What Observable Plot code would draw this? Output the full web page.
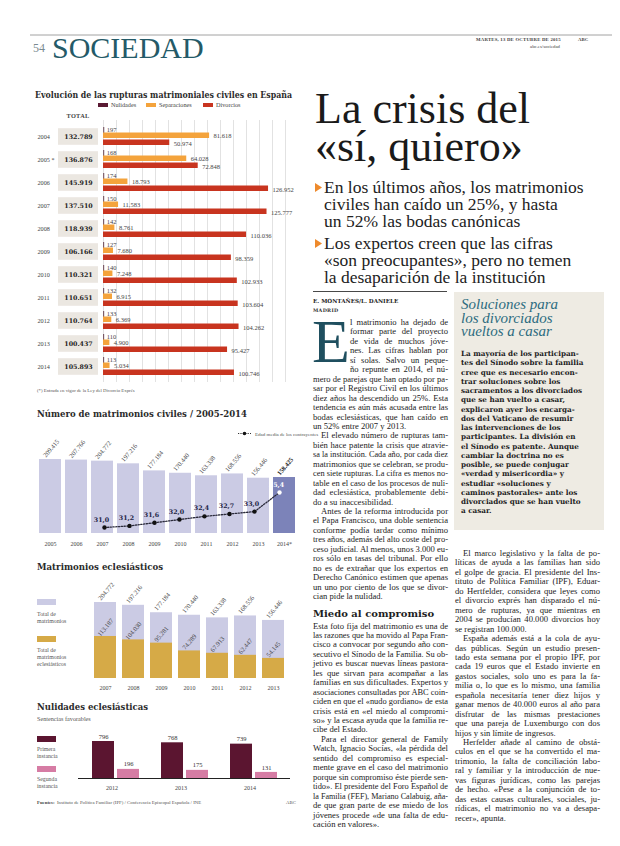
<!DOCTYPE html>
<html><head><meta charset="utf-8">
<script src="https://cdn.jsdelivr.net/npm/d3@7"></script>
<script src="https://cdn.jsdelivr.net/npm/@observablehq/plot@0.6"></script>
<style>
html,body{margin:0;padding:0;background:#fff;}
body{width:620px;height:846px;position:relative;overflow:hidden;}
#bg{position:absolute;left:0;top:0;}
.chart{position:absolute;}
</style></head><body>
<svg id="bg" width="620" height="846"></svg>
<script>
// ---------- DATA ----------
const rupYears = ["2004","2005 *","2006","2007","2008","2009","2010","2011","2012","2013","2014"];
const rupTotal = [132789,136876,145919,137510,118939,106166,110321,110651,110764,100437,105893];
const rupNulidades = [197,168,174,150,142,127,140,132,133,110,113];
const rupSeparaciones = [81618,64028,18793,11583,8761,7680,7248,6915,6369,4900,5034];
const rupDivorcios = [50974,72848,126952,125777,110036,98359,102933,103604,104262,95427,100746];

const civYears = ["2005","2006","2007","2008","2009","2010","2011","2012","2013","2014*"];
const civTotal = [209415,207766,204772,197216,177184,170440,163338,168556,156446,158425];
const ageYears = ["2007","2008","2009","2010","2011","2012","2013","2014*"];
const ageValues = [31.0,31.2,31.6,32.0,32.4,32.7,33.0,35.4];

const eclYears = ["2007","2008","2009","2010","2011","2012","2013"];
const eclTotal = [204772,197216,177184,170440,163338,168556,156446];
const eclEclesiasticos = [113187,104030,95281,74289,67913,62447,54145];

const nulYears = ["2012","2013","2014"];
const nulPrimera = [796,768,739];
const nulSegunda = [196,175,131];

// ---------- helpers ----------
const loc = d3.formatLocale({decimal: ",", thousands: ".", grouping: [3], currency: ["", "€"]});
const fmtN = loc.format(",d");
const fmtA = loc.format(".1f");
const SERIF = "Liberation Serif";
const BOLD = "DejaVu Serif";
const svg = d3.select("#bg");

function T(x, y, s, o = {}) {
  const t = svg.append("text").attr("x", x).attr("y", y).text(s)
    .attr("font-family", o.ff || SERIF).attr("font-size", o.fs || 8).attr("fill", o.fill || "#222");
  if (o.fw) t.attr("font-weight", o.fw);
  if (o.fst) t.attr("font-style", o.fst);
  if (o.anchor) t.attr("text-anchor", o.anchor);
  if (o.ls) t.attr("letter-spacing", o.ls);
  if (o.tl) t.attr("textLength", o.tl).attr("lengthAdjust", "spacingAndGlyphs");
  return t;
}
function justify(t, w) {
  const node = t.node();
  const len = node.getComputedTextLength();
  const spaces = (node.textContent.match(/ /g) || []).length;
  if (len > w || spaces === 0) t.attr("textLength", w).attr("lengthAdjust", "spacingAndGlyphs");
  else t.style("word-spacing", ((w - len) / spaces) + "px");
}
function block(lines, x, w, y, lh, o = {}) {
  lines.forEach((raw, i) => {
    let s = raw, ind = 0, end = !!o.ragged;
    if (s.startsWith(">")) { s = s.slice(1); ind = o.indent || 8; }
    if (s.endsWith("|")) { s = s.slice(0, -1); end = true; }
    if (o.first && i < o.first.n) ind += o.first.dx;
    const xi = x + ind, wi = w - ind;
    const t = T(xi, y + i * lh, s, o);
    if (!end) justify(t, wi);
    else if (t.node().getComputedTextLength() > wi) t.attr("textLength", wi).attr("lengthAdjust", "spacingAndGlyphs");
  });
  return y + lines.length * lh;
}
function place(el, left, top) {
  el.classList.add("chart");
  el.style.left = left + "px";
  el.style.top = top + "px";
  document.body.appendChild(el);
}
const baseStyle = {fontFamily: SERIF, fontSize: "6.5px", color: "#333", background: "transparent", overflow: "visible"};

// ---------- page furniture ----------
svg.append("line").attr("x1", 30).attr("x2", 612).attr("y1", 35).attr("y2", 35).attr("stroke", "#8a8a8a").attr("stroke-width", 0.8);
T(33, 52, "54", {fs: 12, fill: "#7a8a90"});
T(52, 58, "SOCIEDAD", {fs: 30, fill: "#245a68"});
T(476, 41, "MARTES, 13 DE OCTUBRE DE 2015", {fs: 4.8, fw: "bold", fill: "#444", ls: 0.2});
T(578, 41, "ABC", {fs: 4.8, fw: "bold", fill: "#444"});
T(530, 48, "abc.es/sociedad", {fs: 4.8, fill: "#444"});

// ---------- Chart 1 : rupturas ----------
T(35, 98, "Evolución de las rupturas matrimoniales civiles en España", {ff: BOLD, fs: 9.5, fw: "bold", fill: "#2a2a2a", tl: 257});
[["#5a1a33", 98, "Nulidades"], ["#f4a33c", 146, "Separaciones"], ["#c8341f", 203, "Divorcios"]].forEach(([c, x, s]) => {
  svg.append("rect").attr("x", x).attr("y", 103).attr("width", 10).attr("height", 4).attr("fill", c);
  T(x + 13, 107, s, {fs: 6.2, fill: "#444"});
});
T(78, 118, "TOTAL", {fs: 6.3, fw: "bold", fill: "#444", anchor: "middle", ls: 0.3});
T(37, 392, "(*) Entrada en vigor de la Ley del Divorcio Exprés", {fs: 4.8, fill: "#555"});

const rup = rupYears.map((year, i) => ({year, total: rupTotal[i], nul: rupNulidades[i], sep: rupSeparaciones[i], div: rupDivorcios[i]}));
const c1 = Plot.plot({
  width: 262, height: 262,
  marginLeft: 68, marginRight: 12, marginTop: 0, marginBottom: 0,
  x: {domain: [0, 140000], axis: null},
  y: {domain: rupYears, axis: null, padding: 0},
  style: baseStyle,
  marks: [
    Plot.ruleX(d3.ticks(0, 140000, 14), {stroke: "#d6d6d6", strokeWidth: 0.7}),
    Plot.barX(rup, {x1: 0, x2: 0, y: "year", insetLeft: -45, insetRight: 5, insetTop: 3.2, insetBottom: 3.2, fill: "#ebe7e1"}),
    Plot.text(rup, {x: 0, y: "year", text: "year", dx: -66, textAnchor: "start", fill: "#444", fontSize: 6.2}),
    Plot.text(rup, {x: 0, y: "year", text: d => fmtN(d.total), dx: -25, fontWeight: "bold", fontFamily: BOLD, fontSize: 6.3, fill: "#1e1e1e"}),
    Plot.tickX(rup, {x: "nul", y: "year", insetTop: 2, insetBottom: 15, stroke: "#4a1a2c", strokeWidth: 0.8}),
    Plot.text(rup, {x: "nul", y: "year", text: d => fmtN(d.nul), dx: 3, dy: -7.5, textAnchor: "start", fill: "#444"}),
    Plot.barX(rup, {x: "sep", y: "year", fill: "#f4a33c", insetTop: 7.5, insetBottom: 10}),
    Plot.text(rup, {x: "sep", y: "year", text: d => fmtN(d.sep), dx: 4, dy: -1.5, textAnchor: "start", fill: "#444"}),
    Plot.barX(rup, {x: "div", y: "year", fill: "#c8341f", insetTop: 14.5, insetBottom: 3}),
    Plot.text(rup, {x: "div", y: "year", text: d => fmtN(d.div), dx: 4, dy: 6.5, textAnchor: "start", fill: "#444"})
  ]
});
place(c1, 35, 120);

// ---------- Chart 2 : matrimonios civiles ----------
T(37, 417, "Número de matrimonios civiles / 2005-2014", {ff: BOLD, fs: 10, fw: "bold", fill: "#2a2a2a", tl: 210});
svg.append("line").attr("x1", 238).attr("x2", 251).attr("y1", 433.5).attr("y2", 433.5).attr("stroke", "#333").attr("stroke-width", 1).attr("stroke-dasharray", "1.2,1.2");
svg.append("circle").attr("cx", 244.5).attr("cy", 433.5).attr("r", 1.8).attr("fill", "#111");
T(255, 435.5, "Edad media de los contrayentes", {fs: 5, fill: "#555"});

const civ = civYears.map((year, i) => ({year, total: civTotal[i]}));
const age = ageYears.map((year, i) => ({year, age: ageValues[i]}));
const xCiv = {domain: civYears, axis: null, paddingInner: 0.16, paddingOuter: 0.05};
const c2 = Plot.plot({
  width: 262, height: 125, marginLeft: 2, marginRight: 1, marginTop: 0, marginBottom: 0,
  x: xCiv,
  y: {domain: [0, d3.max(civTotal)], range: [108, 34], axis: null},
  style: baseStyle,
  marks: [
    Plot.barY(civ, {x: "year", y: "total", fill: d => d.year === "2014*" ? "#7c83b9" : "#cbcbe4"}),
    Plot.text(civ.filter(d => d.year !== "2014*"), {x: "year", y: "total", text: d => fmtN(d.total), rotate: -50, textAnchor: "start", dx: -6, dy: -3, fill: "#444"}),
    Plot.text(civ.filter(d => d.year === "2014*"), {x: "year", y: "total", text: d => fmtN(d.total), rotate: -50, textAnchor: "start", dx: -6, dy: -3, fill: "#222", fontWeight: "bold"}),
    Plot.text(civ, {x: "year", y: 0, text: "year", dy: 11, fill: "#444", fontSize: 6})
  ]
});
place(c2, 35, 425);
const c2b = Plot.plot({
  width: 262, height: 125, marginLeft: 2, marginRight: 1, marginTop: 0, marginBottom: 0,
  x: xCiv,
  y: {domain: [31, 35.4], range: [102, 67], axis: null},
  style: baseStyle,
  marks: [
    Plot.line(age, {x: "year", y: "age", stroke: "#2b2b3b", strokeWidth: 1.3, strokeDasharray: "1.3,1.5"}),
    Plot.dot(age, {x: "year", y: "age", r: 2.2, fill: d => d.year === "2014*" ? "#ffffff" : "#111111", stroke: "none"}),
    Plot.text(age, {x: "year", y: "age", text: d => fmtA(d.age), dx: -3, dy: -8, fontWeight: "bold", fontFamily: BOLD, fontSize: 6.3, fill: d => d.year === "2014*" ? "#ffffff" : "#1d2547"})
  ]
});
place(c2b, 35, 425);

// ---------- Chart 3 : matrimonios eclesiasticos ----------
T(37, 570, "Matrimonios eclesiásticos", {ff: BOLD, fs: 10, fw: "bold", fill: "#2a2a2a", tl: 126});
svg.append("rect").attr("x", 37).attr("y", 599).attr("width", 19).attr("height", 6).attr("fill", "#cbcbe4");
T(37, 616, "Total de", {fs: 5.8, fill: "#555"});
T(37, 623, "matrimonios", {fs: 5.8, fill: "#555"});
svg.append("rect").attr("x", 37).attr("y", 636).attr("width", 19).attr("height", 6).attr("fill", "#d6aa47");
T(37, 652, "Total de", {fs: 5.8, fill: "#555"});
T(37, 659, "matrimonios", {fs: 5.8, fill: "#555"});
T(37, 666, "eclesiásticos", {fs: 5.8, fill: "#555"});

const ecl = eclYears.map((year, i) => ({year, total: eclTotal[i], ecl: eclEclesiasticos[i]}));
const c3 = Plot.plot({
  width: 262, height: 125, marginLeft: 58, marginRight: 13, marginTop: 0, marginBottom: 0,
  x: {domain: eclYears, axis: null, range: [58, 249], paddingInner: 0.22, paddingOuter: 0},
  y: {domain: [0, d3.max(eclTotal)], range: [108, 32], axis: null},
  style: baseStyle,
  marks: [
    Plot.barY(ecl, {x: "year", y: "total", fill: "#cbcbe4"}),
    Plot.barY(ecl, {x: "year", y: "ecl", fill: "#d6aa47"}),
    Plot.text(ecl, {x: "year", y: "total", text: d => fmtN(d.total), rotate: -50, textAnchor: "start", dx: -6, dy: -3, fill: "#444"}),
    Plot.text(ecl, {x: "year", y: "ecl", text: d => fmtN(d.ecl), rotate: -50, dy: -9, fill: "#444"}),
    Plot.text(ecl, {x: "year", y: 0, text: "year", dy: 10, fill: "#444", fontSize: 6})
  ]
});
place(c3, 35, 570);

// ---------- Chart 4 : nulidades ----------
T(37, 710, "Nulidades eclesiásticas", {ff: BOLD, fs: 10, fw: "bold", fill: "#2a2a2a", tl: 111});
T(37, 721, "Sentencias favorables", {fs: 6.2, fill: "#555"});
svg.append("rect").attr("x", 37).attr("y", 736).attr("width", 19).attr("height", 6).attr("fill", "#5b1530");
T(37, 751, "Primera", {fs: 5.8, fill: "#555"});
T(37, 758, "instancia", {fs: 5.8, fill: "#555"});
svg.append("rect").attr("x", 37).attr("y", 766).attr("width", 19).attr("height", 6).attr("fill", "#d67ca4");
T(37, 781, "Segunda", {fs: 5.8, fill: "#555"});
T(37, 788, "instancia", {fs: 5.8, fill: "#555"});

const nul = nulYears.map((year, i) => ({year, p: nulPrimera[i], s: nulSegunda[i]}));
const c4 = Plot.plot({
  width: 262, height: 70, marginLeft: 43, marginRight: 7, marginTop: 0, marginBottom: 0,
  x: {domain: nulYears, axis: null, range: [56, 244], paddingInner: 0.314, paddingOuter: 0},
  y: {domain: [0, d3.max(nulPrimera)], range: [53, 16], axis: null},
  style: baseStyle,
  marks: [
    Plot.barY(nul, {x: "year", y: "p", fill: "#5b1530", insetRight: 25}),
    Plot.barY(nul, {x: "year", y: "s", fill: "#d67ca4", insetLeft: 25}),
    Plot.ruleY([0], {stroke: "#222", strokeWidth: 1.1}),
    Plot.text(nul, {x: "year", y: "p", text: d => fmtN(d.p), dx: -12.5, dy: -5, fill: "#333", fontSize: 6.5}),
    Plot.text(nul, {x: "year", y: "s", text: d => fmtN(d.s), dx: 12.5, dy: -5, fill: "#333", fontSize: 6.5}),
    Plot.text(nul, {x: "year", y: 0, text: "year", dx: -4, dy: 10, fill: "#444", fontSize: 6})
  ]
});
place(c4, 35, 725);

T(37, 804, "Fuentes:", {fs: 4.8, fw: "bold", fill: "#444"});
T(57, 804, "Instituto de Política Familiar (IPF) / Conferencia Episcopal Española / INE", {fs: 4.8, fill: "#555"});
T(286, 804, "ABC", {fs: 4.8, fill: "#555"});

// ---------- Right column ----------
T(315, 123, "La crisis del", {fs: 44, fill: "#1a1a1a"});
T(315, 161, "«sí, quiero»", {fs: 44, fill: "#1a1a1a"});
function bullet(y) {
  svg.append("path").attr("d", `M315,${y - 10}L322,${y - 5.5}L315,${y - 1}Z`).attr("fill", "#ee8a2c");
}
const sub1 = ["En los últimos años, los matrimonios", "civiles han caído un 25%, y hasta", "un 52% las bodas canónicas"];
const sub2 = ["Los expertos creen que las cifras", "«son preocupantes», pero no temen", "la desaparición de la institución"];
bullet(193); sub1.forEach((s, i) => T(324, 193 + i * 17, s, {fs: 17.5, fill: "#222"}));
bullet(249); sub2.forEach((s, i) => T(324, 249 + i * 17, s, {fs: 17.5, fill: "#222"}));

svg.append("line").attr("x1", 313).attr("x2", 447).attr("y1", 291.5).attr("y2", 291.5).attr("stroke", "#333").attr("stroke-width", 0.9);
T(313, 303, "E. MONTAÑES/L. DANIELE", {ff: BOLD, fs: 5.6, fw: "bold", fill: "#222"});
T(313, 312, "MADRID", {ff: BOLD, fs: 4.8, fw: "bold", fill: "#333", ls: 0.3});

// sidebar
svg.append("rect").attr("x", 454).attr("y", 292).attr("width", 150).attr("height", 238).attr("fill", "#eeebe3");
["Soluciones para", "los divorciados", "vueltos a casar"].forEach((s, i) => T(461, 309 + i * 13.5, s, {fs: 15, fst: "italic", fill: "#2d6b80"}));
const sideLines = [
 "La mayoría de los participan-",
 "tes del Sínodo sobre la familia",
 "cree que es necesario encon-",
 "trar soluciones sobre los",
 "sacramentos a los divorciados",
 "que se han vuelto a casar,",
 "explicaron ayer los encarga-",
 "dos del Vaticano de resumir",
 "las intervenciones de los",
 "participantes. La división en",
 "el Sínodo es patente. Aunque",
 "cambiar la doctrina no es",
 "posible, se puede conjugar",
 "«verdad y misericordia» y",
 "estudiar «soluciones y",
 "caminos pastorales» ante los",
 "divorciados que se han vuelto",
 "a casar."
];
block(sideLines, 461, 136, 356, 9.25, {ff: BOLD, fs: 7.2, fw: "bold", fill: "#222", ragged: true});

// column 1
const col1a = [
 "l matrimonio ha dejado de",
 "formar parte del proyecto",
 "de vida de muchos jóve-",
 "nes. Las cifras hablan por",
 "sí solas. Salvo un peque-",
 "ño repunte en 2014, el nú-",
 "mero de parejas que han optado por pa-",
 "sar por el Registro Civil en los últimos",
 "diez años ha descendido un 25%. Esta",
 "tendencia es aún más acusada entre las",
 "bodas eclesiásticas, que han caído en",
 "un 52% entre 2007 y 2013.|",
 ">El elevado número de rupturas tam-",
 "bién hace patente la crisis que atravie-",
 "sa la institución. Cada año, por cada diez",
 "matrimonios que se celebran, se produ-",
 "cen siete rupturas. La cifra es menos no-",
 "table en el caso de los procesos de nuli-",
 "dad eclesiástica, probablemente debi-",
 "do a su inaccesibilidad.|",
 ">Antes de la reforma introducida por",
 "el Papa Francisco, una doble sentencia",
 "conforme podía tardar como mínimo",
 "tres años, además del alto coste del pro-",
 "ceso judicial. Al menos, unos 3.000 eu-",
 "ros sólo en tasas del tribunal. Por ello",
 "no es de extrañar que los expertos en",
 "Derecho Canónico estimen que apenas",
 "un uno por ciento de los que se divor-",
 "cian pide la nulidad.|"
];
const col1b = [
 "Esta foto fija del matrimonio es una de",
 "las razones que ha movido al Papa Fran-",
 "cisco a convocar por segundo año con-",
 "secutivo el Sínodo de la Familia. Su ob-",
 "jetivo es buscar nuevas líneas pastora-",
 "les que sirvan para acompañar a las",
 "familias en sus dificultades. Expertos y",
 "asociaciones consultadas por ABC coin-",
 "ciden en que el «nudo gordiano» de esta",
 "crisis está en «el miedo al compromi-",
 "so» y la escasa ayuda que la familia re-",
 "cibe del Estado.|",
 ">Para el director general de Family",
 "Watch, Ignacio Socías, «la pérdida del",
 "sentido del compromiso es especial-",
 "mente grave en el caso del matrimonio",
 "porque sin compromiso éste pierde sen-",
 "tido». El presidente del Foro Español de",
 "la Familia (FEF), Mariano Calabuig, aña-",
 "de que gran parte de ese miedo de los",
 "jóvenes procede «de una falta de edu-",
 "cación en valores».|"
];
const LH = 9.45;
T(312, 362, "E", {fs: 62, fill: "#1f4f5f"});
let yy = block(col1a, 313, 135, 325, LH, {fs: 8.6, first: {n: 6, dx: 37}});
T(313, yy + 8, "Miedo al compromiso", {ff: BOLD, fs: 10, fw: "bold", fill: "#1e1e1e"});
block(col1b, 313, 135, yy + 20, LH, {fs: 8.6});

// column 2
const col2 = [
 ">El marco legislativo y la falta de po-",
 "líticas de ayuda a las familias han sido",
 "el golpe de gracia. El presidente del Ins-",
 "tituto de Política Familiar (IPF), Eduar-",
 "do Hertfelder, considera que leyes como",
 "el divorcio exprés han disparado el nú-",
 "mero de rupturas, ya que mientras en",
 "2004 se producían 40.000 divorcios hoy",
 "se registran 100.000.|",
 ">España además está a la cola de ayu-",
 "das públicas. Según un estudio presen-",
 "tado esta semana por el propio IPF, por",
 "cada 19 euros que el Estado invierte en",
 "gastos sociales, solo uno es para la fa-",
 "milia o, lo que es lo mismo, una familia",
 "española necesitaría tener diez hijos y",
 "ganar menos de 40.000 euros al año para",
 "disfrutar de las mismas prestaciones",
 "que una pareja de Luxemburgo con dos",
 "hijos y sin límite de ingresos.|",
 ">Herfelder añade al camino de obstá-",
 "culos en el que se ha convertido el ma-",
 "trimonio, la falta de conciliación labo-",
 "ral y familiar y la introducción de nue-",
 "vas figuras jurídicas, como las parejas",
 "de hecho. «Pese a la conjunción de to-",
 "das estas causas culturales, sociales, ju-",
 "rídicas, el matrimonio no va a desapa-",
 "recer», apunta.|"
];
block(col2, 455, 145, 556, LH, {fs: 8.6});
</script>
</body></html>
